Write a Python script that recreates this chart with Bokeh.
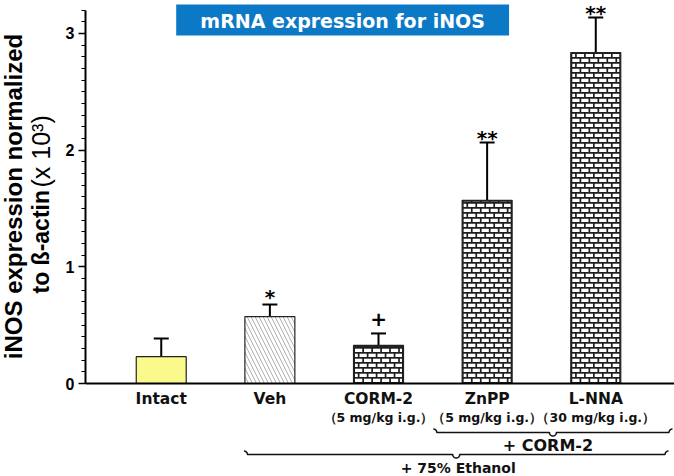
import numpy as np
from bokeh.plotting import figure
from bokeh.layouts import row
from bokeh.models import (ColumnDataSource, Whisker, TeeHead, Span,
                          SingleIntervalTicker, Range1d)
from bokeh.core.properties import value
from bokeh.embed import file_html
from bokeh.resources import INLINE

# ---------------- data ----------------
groups = ["Intact", "Veh", "CORM-2", "ZnPP", "L-NNA"]
doses = ["", "", "（5 mg/kg i.g.）", "（5 mg/kg i.g.）", "（30 mg/kg i.g.）"]
means = [0.23, 0.574, 0.326, 1.57, 2.836]
errors = [0.156, 0.103, 0.103, 0.495, 0.30]
signif = ["", "*", "+", "**", "**"]
title_text = "mRNA expression for iNOS"
ylabel_line1 = "iNOS expression normalized"
ylabel_line2a = "to ß-actin"
ylabel_line2b = "(x 10³)"
bracket_inner = "+ CORM-2"
bracket_outer = "+ 75% Ethanol"

# ---------------- layout (page pixels) ----------------
PAGE_W, PAGE_H = 674, 476
LW = 62                  # width of the y-title strip
FW, FH = PAGE_W - LW, PAGE_H
AXIS_X = 83              # y axis line at page x = 83
X_ZERO, Y_ZERO = 159, 383
PX, PY = 109.0, 116.67
x0 = (AXIS_X - X_ZERO) / PX
x1 = (PAGE_W - X_ZERO) / PX
y1 = Y_ZERO / PY
y0 = y1 - FH / PY

def X(px):
    return (px - X_ZERO) / PX

def Y(py):
    return (Y_ZERO - py) / PY

# ---------- y title strip ----------
lf = figure(width=LW, height=PAGE_H, output_backend="svg", toolbar_location=None,
            x_range=Range1d(0, LW), y_range=Range1d(0, PAGE_H),
            x_axis_location=None, y_axis_location=None, min_border=0)
lf.outline_line_color = None
lf.grid.visible = False
lf.text(x=[13], y=[PAGE_H - 196], text=[ylabel_line1], angle=np.pi / 2,
        text_align="center", text_baseline="alphabetic",
        text_font=value("Liberation Sans"), text_font_style="bold",
        text_font_size="24px", text_color="black")
lf.text(x=[40], y=[PAGE_H - 293], text=[ylabel_line2a], angle=np.pi / 2,
        text_align="left", text_baseline="alphabetic",
        text_font=value("Liberation Sans"), text_font_style="bold",
        text_font_size="23px", text_color="black")
lf.text(x=[40], y=[PAGE_H - 187], text=[ylabel_line2b], angle=np.pi / 2,
        text_align="left", text_baseline="alphabetic",
        text_font=value("Liberation Sans"), text_font_style="normal",
        text_font_size="25px", text_color="black")

# ---------- main chart ----------
p = figure(width=FW, height=FH, output_backend="svg", toolbar_location=None,
           x_range=Range1d(x0, x1), y_range=Range1d(y0, y1),
           x_axis_location=None, min_border_left=AXIS_X - LW, min_border_right=0,
           min_border_top=0, min_border_bottom=0)
p.outline_line_color = None
p.grid.visible = False
p.background_fill_color = "white"

ax = p.yaxis[0]
ax.ticker = SingleIntervalTicker(interval=1, num_minor_ticks=10)
ax.bounds = (0, 3.2)
ax.axis_line_width = 2
ax.major_tick_line_width = 1.5
ax.major_tick_out = 7
ax.major_tick_in = 0
ax.minor_tick_out = 4
ax.minor_tick_in = 0
ax.minor_tick_line_width = 1
ax.major_label_text_font = "Liberation Sans"
ax.major_label_text_font_style = "bold"
ax.major_label_text_font_size = "16px"
ax.major_label_text_color = "black"
ax.major_label_standoff = 4

xs = list(range(len(groups)))
bw = 0.46
fill_cols = ["#F9F98C", "white", "#1e1e1e", "#1e1e1e", "#1e1e1e"]
hatches = ["blank", "left_diagonal_line", "blank", "blank", "blank"]
upper = [m + e for m, e in zip(means, errors)]
gap = {"": 0, "*": 20, "**": 17, "+": 21}
src = ColumnDataSource(dict(x=xs, top=means, upper=upper, fill=fill_cols,
                            hatch=hatches, sig=signif,
                            sig_y=[u + gap[s] / PY for u, s in zip(upper, signif)],
                            name=groups, dose=doses))

p.vbar(x="x", top="top", width=bw, bottom=0, source=src, fill_color="fill",
       line_color="#222222", line_width=1.2, hatch_pattern="hatch",
       hatch_color="#9a9a9a", hatch_scale=8, hatch_weight=0.8)

# brick pattern for the brick bars
bl, br, bb, bt = [], [], [], []
for i, m in enumerate(means):
    if i < 2:
        continue
    lpx = i * PX - bw * PX / 2 + 1.5
    rpx = i * PX + bw * PX / 2 - 1.5
    tpx = m * PY - 1.5
    r_ = 0
    yb = 1.5
    while yb < tpx:
        yt = min(yb + 3.3, tpx)
        off = 0 if r_ % 2 == 0 else -4.5
        xsx = lpx + off
        while xsx < rpx:
            a, b = max(xsx, lpx), min(xsx + 7.3, rpx)
            if b - a > 0.5:
                bl.append(a / PX); br.append(b / PX)
                bb.append(yb / PY); bt.append(yt / PY)
            xsx += 9
        yb += 5
        r_ += 1
p.quad(left=bl, right=br, bottom=bb, top=bt, fill_color="white", line_color=None)

# error bars
p.add_layout(Whisker(base="x", lower="top", upper="upper", source=src,
                     line_width=2, line_color="black", lower_head=None,
                     upper_head=TeeHead(size=15, line_width=2, line_color="black")))

# significance marks
p.text(x="x", y="sig_y", text="sig", source=src, text_align="center",
       text_baseline="top", text_font=value("DejaVu Sans"),
       text_font_style="bold", text_font_size="20px", text_color="black")

# baseline
p.add_layout(Span(location=0, dimension="width", line_color="black", line_width=2))

# category labels
p.text(x="x", y=Y(398), text="name", source=src, text_align="center",
       text_baseline="middle", text_font=value("DejaVu Sans"),
       text_font_style="bold", text_font_size="15.5px", text_color="#111111")
p.text(x="x", y=Y(417), text="dose", source=src, text_align="center",
       text_baseline="middle", text_font=value("DejaVu Sans"),
       text_font_style="bold", text_font_size="12.5px", text_color="#111111")

# braces
def brace(xa, xb, ypx, amp=3.5, n=12):
    """under-brace between data x xa..xb, main line at page y ypx"""
    xm = (xa + xb) / 2
    r = amp / PX
    t = np.linspace(0, np.pi / 2, n)
    pts_x, pts_y = [], []
    pts_x += list(xa + r * np.sin(t)); pts_y += list(Y(ypx - amp + amp * (1 - np.cos(t))))
    pts_x += list(xm - r + r * (1 - np.cos(t))); pts_y += list(Y(ypx + amp * np.sin(t)))
    pts_x += list(xm + r * np.sin(t)); pts_y += list(Y(ypx + amp - amp * (1 - np.cos(t))))
    pts_x += list(xb - r + r * (1 - np.cos(t))); pts_y += list(Y(ypx - amp * np.sin(t)))
    return pts_x, pts_y

bx, by = brace(X(432), X(672), 432)
p.line(bx, by, line_color="#111111", line_width=1.5)
bx, by = brace(X(242), X(668), 454)
p.line(bx, by, line_color="#111111", line_width=1.5)

p.text(x=[X(547)], y=[Y(445)], text=[bracket_inner], text_align="center",
       text_baseline="middle", text_font=value("DejaVu Sans"),
       text_font_style="bold", text_font_size="16px", text_color="#111111")
p.text(x=[X(457)], y=[Y(467)], text=[bracket_outer], text_align="center",
       text_baseline="middle", text_font=value("DejaVu Sans"),
       text_font_style="bold", text_font_size="14px", text_color="#111111")

# title box
p.quad(left=[X(174)], right=[X(508)], bottom=[Y(35)], top=[Y(4)],
       fill_color="#0B79C6", line_color=None)
p.text(x=[X(341)], y=[Y(20)], text=[title_text],
       text_align="center", text_baseline="middle", text_font=value("DejaVu Sans"),
       text_font_style="bold", text_font_size="19px", text_color="white")

layout = row(lf, p, spacing=0)
open("out.html", "w").write(file_html(layout, INLINE))
